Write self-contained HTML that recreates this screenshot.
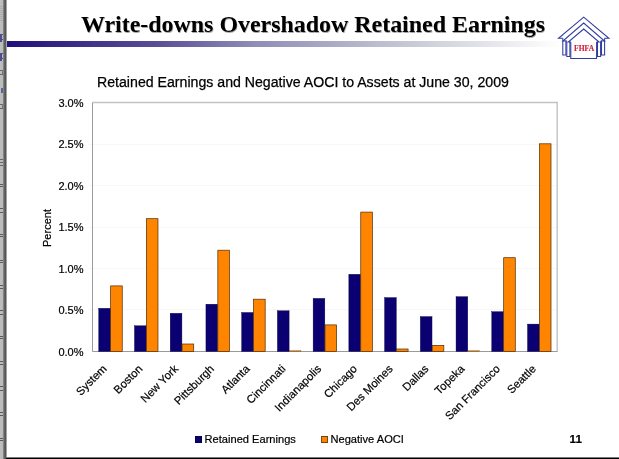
<!DOCTYPE html>
<html><head><meta charset="utf-8"><title>Write-downs Overshadow Retained Earnings</title>
<style>
html,body{margin:0;padding:0;background:#fff;}
body{width:619px;height:459px;position:relative;overflow:hidden;font-family:"Liberation Sans",Arial,sans-serif;}
.strip{position:absolute;left:0;top:0;width:7px;height:459px;background:linear-gradient(90deg,#bebebe 0px,#bababa 2.6px,#858585 3.4px,#626262 4.5px,#555 5.6px,#5e5e5e 6.2px,#fff 6.9px);}
.mk{position:absolute;left:0;width:3px;height:1px;background:#666;}
.bottom{position:absolute;left:6px;top:457px;width:613px;height:2px;background:linear-gradient(180deg,#8a8a8a 0%,#6a6a6a 50%,#000 50%,#000 100%);}
.title{position:absolute;left:0;top:9px;width:626px;text-align:center;font-family:"Liberation Serif","Times New Roman",serif;font-weight:bold;font-size:23.93px;line-height:30px;color:#000;text-shadow:0.6px 0.6px 0.6px #aaa;white-space:nowrap;}
.bar{position:absolute;left:7px;top:41px;width:553px;height:6px;background:linear-gradient(90deg,#21107c 0%,#594e95 27%,#908db6 45%,#c5c7d4 72%,#fff 100%);}
.sub{-webkit-text-stroke:0.25px #000;position:absolute;left:97px;top:73px;font-size:14.15px;line-height:18px;white-space:nowrap;color:#000;}
.leg{-webkit-text-stroke:0.2px #000;position:absolute;top:431.7px;font-size:11.1px;line-height:14px;white-space:nowrap;color:#000;}
.sq{position:absolute;top:435.6px;width:7.3px;height:7.2px;}
.pn{-webkit-text-stroke:0.2px #000;position:absolute;left:569.6px;top:431.8px;font-size:11.6px;font-weight:bold;line-height:14px;}
</style></head><body>
<div class="strip"></div><div class="mk" style="left:0px;top:184px;width:3px;height:1px;background:#5a5a5a"></div><div class="mk" style="left:0px;top:186px;width:3px;height:1px;background:#5a5a5a"></div><div class="mk" style="left:0px;top:208px;width:3px;height:1px;background:#5a5a5a"></div><div class="mk" style="left:0px;top:212px;width:3px;height:1px;background:#5a5a5a"></div><div class="mk" style="left:0px;top:234px;width:3px;height:1px;background:#5a5a5a"></div><div class="mk" style="left:0px;top:236px;width:3px;height:1px;background:#5a5a5a"></div><div class="mk" style="left:0px;top:260px;width:3px;height:1px;background:#5a5a5a"></div><div class="mk" style="left:0px;top:262px;width:3px;height:1px;background:#5a5a5a"></div><div class="mk" style="left:0px;top:285px;width:3px;height:1px;background:#5a5a5a"></div><div class="mk" style="left:0px;top:288px;width:3px;height:1px;background:#5a5a5a"></div><div class="mk" style="left:0px;top:310px;width:3px;height:1px;background:#5a5a5a"></div><div class="mk" style="left:0px;top:314px;width:3px;height:1px;background:#5a5a5a"></div><div class="mk" style="left:0px;top:336px;width:3px;height:1px;background:#5a5a5a"></div><div class="mk" style="left:0px;top:338px;width:3px;height:1px;background:#5a5a5a"></div><div class="mk" style="left:0px;top:361px;width:3px;height:1px;background:#5a5a5a"></div><div class="mk" style="left:0px;top:364px;width:3px;height:1px;background:#5a5a5a"></div><div class="mk" style="left:0px;top:386px;width:3px;height:1px;background:#5a5a5a"></div><div class="mk" style="left:0px;top:390px;width:3px;height:1px;background:#5a5a5a"></div><div class="mk" style="left:0px;top:412px;width:3px;height:1px;background:#5a5a5a"></div><div class="mk" style="left:0px;top:415px;width:3px;height:1px;background:#5a5a5a"></div><div class="mk" style="left:0px;top:438px;width:3px;height:1px;background:#5a5a5a"></div><div class="mk" style="left:0px;top:440px;width:3px;height:1px;background:#5a5a5a"></div><div class="mk" style="left:0px;top:34px;width:3px;height:1px;background:#5a5a5a"></div><div class="mk" style="left:0px;top:39px;width:3px;height:1px;background:#5a5a5a"></div><div class="mk" style="left:0px;top:34px;width:1.5px;height:8px;background:#4d4d96"></div><div class="mk" style="left:0px;top:53px;width:3px;height:1px;background:#5a5a5a"></div><div class="mk" style="left:0px;top:58px;width:3px;height:1px;background:#5a5a5a"></div><div class="mk" style="left:0px;top:53px;width:1.5px;height:8px;background:#4d4d96"></div><div class="mk" style="left:0px;top:70px;width:3px;height:1px;background:#666"></div><div class="mk" style="left:0px;top:74px;width:3px;height:1px;background:#666"></div><div class="mk" style="left:2px;top:70px;width:1px;height:4px;background:#777"></div><div class="mk" style="left:0px;top:104px;width:3px;height:1px;background:#666"></div><div class="mk" style="left:0px;top:108px;width:3px;height:1px;background:#666"></div><div class="mk" style="left:2px;top:104px;width:1px;height:4px;background:#777"></div><div class="mk" style="left:0px;top:6px;width:3px;height:1px;background:#b1aca7"></div><div class="mk" style="left:0px;top:8px;width:3px;height:1px;background:#b1aca7"></div><div class="mk" style="left:0px;top:10px;width:3px;height:1px;background:#b1aca7"></div><div class="mk" style="left:0px;top:12px;width:3px;height:1px;background:#b1aca7"></div><div class="mk" style="left:0px;top:14px;width:3px;height:1px;background:#b1aca7"></div><div class="mk" style="left:0px;top:16px;width:3px;height:1px;background:#b1aca7"></div><div class="mk" style="left:0px;top:18px;width:3px;height:1px;background:#b1aca7"></div><div class="mk" style="left:0px;top:20px;width:3px;height:1px;background:#b1aca7"></div><div class="mk" style="left:1px;top:88px;width:1.5px;height:5px;background:#56679a"></div><div class="mk" style="left:0px;top:159px;width:3px;height:1px;background:#666"></div><div class="mk" style="left:0px;top:162px;width:3px;height:1px;background:#666"></div><div class="mk" style="left:0px;top:165px;width:3px;height:1px;background:#666"></div>
<div class="title">Write-downs Overshadow Retained Earnings</div>
<div class="bar"></div>
<div class="sub">Retained Earnings and Negative AOCI to Assets at June 30, 2009</div>
<svg width="619" height="459" viewBox="0 0 619 459" style="position:absolute;left:0;top:0" font-family="Liberation Sans, Arial, sans-serif">
<line x1="89.0" y1="309.5" x2="557.5" y2="309.5" stroke="#f7f7f7" stroke-width="1"/>
<line x1="89.0" y1="268.5" x2="557.5" y2="268.5" stroke="#f7f7f7" stroke-width="1"/>
<line x1="89.0" y1="227.5" x2="557.5" y2="227.5" stroke="#f7f7f7" stroke-width="1"/>
<line x1="89.0" y1="185.5" x2="557.5" y2="185.5" stroke="#f7f7f7" stroke-width="1"/>
<line x1="89.0" y1="144.5" x2="557.5" y2="144.5" stroke="#f7f7f7" stroke-width="1"/>
<path d="M92.5 102.5 H557.2 V351.5" fill="none" stroke="#c2c2c2" stroke-width="1.4"/>
<path d="M92.5 102.5 V351.5 H557.5" fill="none" stroke="#9a9a9a" stroke-width="1"/>
<rect x="98.75" y="308.3" width="11.70" height="43.2" fill="#0b0071" stroke="#07003a" stroke-width="0.4"/>
<rect x="110.65" y="285.9" width="11.60" height="65.6" fill="#ff8500" stroke="#4f2c00" stroke-width="0.7"/>
<text x="107.4" y="369.5" font-size="11.3" text-anchor="end" fill="#000" stroke="#000" stroke-width="0.2" transform="rotate(-45 107.4 369.5)">System</text>
<rect x="134.48" y="325.8" width="11.70" height="25.7" fill="#0b0071" stroke="#07003a" stroke-width="0.4"/>
<rect x="146.38" y="218.7" width="11.60" height="132.8" fill="#ff8500" stroke="#4f2c00" stroke-width="0.7"/>
<text x="143.2" y="369.5" font-size="11.3" text-anchor="end" fill="#000" stroke="#000" stroke-width="0.2" transform="rotate(-45 143.2 369.5)">Boston</text>
<rect x="170.21" y="313.3" width="11.70" height="38.2" fill="#0b0071" stroke="#07003a" stroke-width="0.4"/>
<rect x="182.11" y="344.0" width="11.60" height="7.5" fill="#ff8500" stroke="#4f2c00" stroke-width="0.7"/>
<text x="178.9" y="369.5" font-size="11.3" text-anchor="end" fill="#000" stroke="#000" stroke-width="0.2" transform="rotate(-45 178.9 369.5)">New York</text>
<rect x="205.94" y="304.2" width="11.70" height="47.3" fill="#0b0071" stroke="#07003a" stroke-width="0.4"/>
<rect x="217.84" y="250.2" width="11.60" height="101.3" fill="#ff8500" stroke="#4f2c00" stroke-width="0.7"/>
<text x="214.7" y="369.5" font-size="11.3" text-anchor="end" fill="#000" stroke="#000" stroke-width="0.2" transform="rotate(-45 214.7 369.5)">Pittsburgh</text>
<rect x="241.67" y="312.5" width="11.70" height="39.0" fill="#0b0071" stroke="#07003a" stroke-width="0.4"/>
<rect x="253.57" y="299.2" width="11.60" height="52.3" fill="#ff8500" stroke="#4f2c00" stroke-width="0.7"/>
<text x="250.5" y="369.5" font-size="11.3" text-anchor="end" fill="#000" stroke="#000" stroke-width="0.2" transform="rotate(-45 250.5 369.5)">Atlanta</text>
<rect x="277.40" y="310.8" width="11.70" height="40.7" fill="#0b0071" stroke="#07003a" stroke-width="0.4"/>
<rect x="289.30" y="350.7" width="11.60" height="0.8" fill="#ff8500" stroke="#4f2c00" stroke-width="0.3"/>
<text x="286.2" y="369.5" font-size="11.3" text-anchor="end" fill="#000" stroke="#000" stroke-width="0.2" transform="rotate(-45 286.2 369.5)">Cincinnati</text>
<rect x="313.13" y="298.4" width="11.70" height="53.1" fill="#0b0071" stroke="#07003a" stroke-width="0.4"/>
<rect x="325.03" y="324.9" width="11.60" height="26.6" fill="#ff8500" stroke="#4f2c00" stroke-width="0.7"/>
<text x="322.0" y="369.5" font-size="11.3" text-anchor="end" fill="#000" stroke="#000" stroke-width="0.2" transform="rotate(-45 322.0 369.5)">Indianapolis</text>
<rect x="348.86" y="274.3" width="11.70" height="77.2" fill="#0b0071" stroke="#07003a" stroke-width="0.4"/>
<rect x="360.76" y="212.1" width="11.60" height="139.4" fill="#ff8500" stroke="#4f2c00" stroke-width="0.7"/>
<text x="357.8" y="369.5" font-size="11.3" text-anchor="end" fill="#000" stroke="#000" stroke-width="0.2" transform="rotate(-45 357.8 369.5)">Chicago</text>
<rect x="384.59" y="297.6" width="11.70" height="54.0" fill="#0b0071" stroke="#07003a" stroke-width="0.4"/>
<rect x="396.49" y="349.0" width="11.60" height="2.5" fill="#ff8500" stroke="#4f2c00" stroke-width="0.7"/>
<text x="393.5" y="369.5" font-size="11.3" text-anchor="end" fill="#000" stroke="#000" stroke-width="0.2" transform="rotate(-45 393.5 369.5)">Des Moines</text>
<rect x="420.32" y="316.6" width="11.70" height="34.9" fill="#0b0071" stroke="#07003a" stroke-width="0.4"/>
<rect x="432.22" y="345.4" width="11.60" height="6.1" fill="#ff8500" stroke="#4f2c00" stroke-width="0.7"/>
<text x="429.3" y="369.5" font-size="11.3" text-anchor="end" fill="#000" stroke="#000" stroke-width="0.2" transform="rotate(-45 429.3 369.5)">Dallas</text>
<rect x="456.05" y="296.7" width="11.70" height="54.8" fill="#0b0071" stroke="#07003a" stroke-width="0.4"/>
<rect x="467.95" y="350.7" width="11.60" height="0.8" fill="#ff8500" stroke="#4f2c00" stroke-width="0.3"/>
<text x="465.1" y="369.5" font-size="11.3" text-anchor="end" fill="#000" stroke="#000" stroke-width="0.2" transform="rotate(-45 465.1 369.5)">Topeka</text>
<rect x="491.78" y="311.7" width="11.70" height="39.8" fill="#0b0071" stroke="#07003a" stroke-width="0.4"/>
<rect x="503.68" y="257.7" width="11.60" height="93.8" fill="#ff8500" stroke="#4f2c00" stroke-width="0.7"/>
<text x="500.8" y="369.5" font-size="11.3" text-anchor="end" fill="#000" stroke="#000" stroke-width="0.2" transform="rotate(-45 500.8 369.5)">San Francisco</text>
<rect x="527.51" y="324.1" width="11.70" height="27.4" fill="#0b0071" stroke="#07003a" stroke-width="0.4"/>
<rect x="539.41" y="143.8" width="11.60" height="207.7" fill="#ff8500" stroke="#4f2c00" stroke-width="0.7"/>
<text x="536.6" y="369.5" font-size="11.3" text-anchor="end" fill="#000" stroke="#000" stroke-width="0.2" transform="rotate(-45 536.6 369.5)">Seattle</text>
<text x="83.5" y="355.5" font-size="11" text-anchor="end" fill="#000" stroke="#000" stroke-width="0.2">0.0%</text>
<text x="83.5" y="314.0" font-size="11" text-anchor="end" fill="#000" stroke="#000" stroke-width="0.2">0.5%</text>
<text x="83.5" y="272.5" font-size="11" text-anchor="end" fill="#000" stroke="#000" stroke-width="0.2">1.0%</text>
<text x="83.5" y="231.0" font-size="11" text-anchor="end" fill="#000" stroke="#000" stroke-width="0.2">1.5%</text>
<text x="83.5" y="189.5" font-size="11" text-anchor="end" fill="#000" stroke="#000" stroke-width="0.2">2.0%</text>
<text x="83.5" y="148.0" font-size="11" text-anchor="end" fill="#000" stroke="#000" stroke-width="0.2">2.5%</text>
<text x="83.5" y="106.5" font-size="11" text-anchor="end" fill="#000" stroke="#000" stroke-width="0.2">3.0%</text>
<text x="51" y="228" font-size="11" text-anchor="middle" fill="#000" stroke="#000" stroke-width="0.2" transform="rotate(-90 51 228)">Percent</text>
<g fill="none" stroke="#2f3c9f" stroke-width="1.05" stroke-linejoin="miter">
<path d="M562.8 38.3 H558.5 L583.7 17.1 L608.9000000000001 38.3 H604.6000000000001"/>
<path d="M566.8 41.0 H562.9 L583.7 23.0 L604.5 41.0 H600.6"/>
<path d="M570.8 42.0 H568.3 L583.7 29.0 L599.1 42.0 H596.6"/>
<path d="M562.8 38.3 V55 H565.9 V40.5"/>
<path d="M604.6 38.3 V55 H601.5 V40.5"/>
<path d="M566.8 41.2 V56.4 H569.9 V42"/>
<path d="M600.6 41.2 V56.4 H597.5 V42"/>
<path d="M570.8 42 V58.4 H596.6 V42"/>
</g>
<text x="584.1" y="50.6" font-family="Liberation Serif, Times New Roman, serif" font-weight="bold" font-size="7.6" text-anchor="middle" fill="#cf1f3a" stroke="#cf1f3a" stroke-width="0.15" textLength="20" lengthAdjust="spacingAndGlyphs">FHFA</text>
</svg>
<div class="sq" style="left:194.9px;background:#0b0071;box-shadow:inset 0 0 0 0.6px #07003a"></div>
<div class="leg" style="left:204.6px">Retained Earnings</div>
<div class="sq" style="left:320.5px;background:#ff8500;box-shadow:inset 0 0 0 0.9px #6e4412"></div>
<div class="leg" style="left:330.5px">Negative AOCI</div>
<div class="pn">11</div>
<div class="bottom"></div>
</body></html>
